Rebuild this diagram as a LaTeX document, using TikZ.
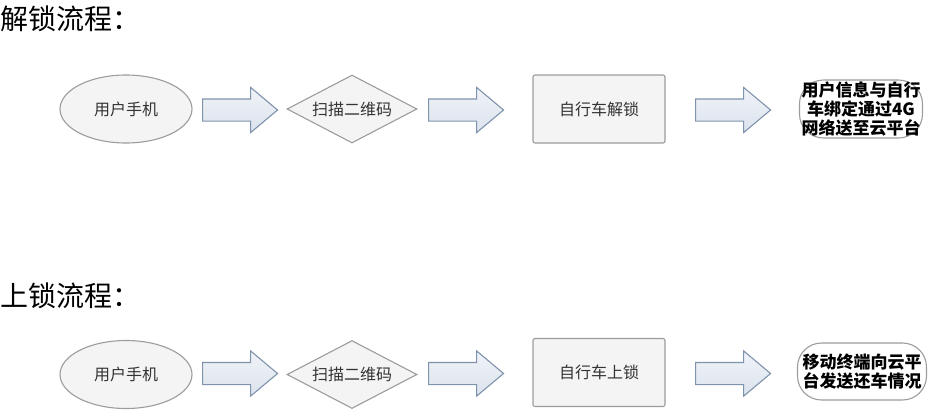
\documentclass[tikz,border=0pt]{standalone}
\usepackage{fontspec}
\setmainfont{Noto Sans CJK SC}
\usetikzlibrary{shapes.geometric,shapes.arrows,shadows}
\definecolor{shapeline}{HTML}{9C9C9C}
\definecolor{shapefill}{HTML}{F4F4F4}
\definecolor{arrline}{HTML}{7F93AD}
\definecolor{arrfill}{HTML}{E6ECF4}
\definecolor{txt}{HTML}{333333}
\tikzset{
  base/.style={draw=shapeline, line width=1.1pt, fill=shapefill, text=txt, font=\fontsize{16}{19}\selectfont, align=center},
  ellnode/.style={base, ellipse, minimum width=132pt, minimum height=68pt, inner sep=0pt},
  dianode/.style={base, diamond, minimum width=130pt, minimum height=68pt, inner sep=0pt, aspect=1.9},
  recnode/.style={base, rectangle, rounded corners=2pt, minimum width=132pt, minimum height=68pt},
  endnode/.style={draw=shapeline, line width=1.1pt, fill=white, rounded corners=24pt, inner sep=0pt},
  endtext/.style={text=black, font=\fontsize{17}{20}\selectfont\bfseries, align=center, inner sep=0pt},
  blockarrow/.style={single arrow, draw=arrline, line width=1.1pt, top color=arrfill!60!white, bottom color=arrfill!90!arrline, shading angle=0, minimum height=75pt, minimum width=44pt, single arrow head extend=11.5pt, single arrow tip angle=80, inner xsep=0pt, inner ysep=10.5pt, anchor=tail},
  title/.style={anchor=west, inner sep=0pt, font=\fontsize{28}{32}\selectfont, text=black}
}
\begin{document}
\begin{tikzpicture}[x=1pt,y=-1pt]
\useasboundingbox (0,0) rectangle (933,410);
% Row 1
\node[title] (t1) at (0,19) {解锁流程：};
\node[ellnode] (a1) at (126,109) {用户手机};
\node[dianode] (b1) at (352,109) {扫描二维码};
\node[recnode] (c1) at (599,109) {自行车解锁};
\node[endnode, minimum width=123pt, minimum height=58pt] (d1) at (861,109) {};
\node[endtext] (d1t) at (d1.center) {用户信息与自行\\[-1pt]车绑定通过4G\\[-1pt]网络送至云平台};
\node[blockarrow] (r11) at (202,110) {};
\node[blockarrow] (r12) at (428,110) {};
\node[blockarrow] (r13) at (695,110) {};
% Row 2
\node[title] (t2) at (0,296) {上锁流程：};
\node[ellnode] (a2) at (126,374.5) {用户手机};
\node[dianode] (b2) at (352,374.5) {扫描二维码};
\node[recnode] (c2) at (599,372.5) {自行车上锁};
\node[endnode, minimum width=129pt, minimum height=57pt] (d2) at (862,371.5) {};
\node[endtext] (d2t) at (d2.center) {移动终端向云平\\[-1pt]台发送还车情况};
\node[blockarrow] (r21) at (202,373.5) {};
\node[blockarrow] (r22) at (428,373.5) {};
\node[blockarrow] (r23) at (695,373.5) {};
\end{tikzpicture}
\end{document}
